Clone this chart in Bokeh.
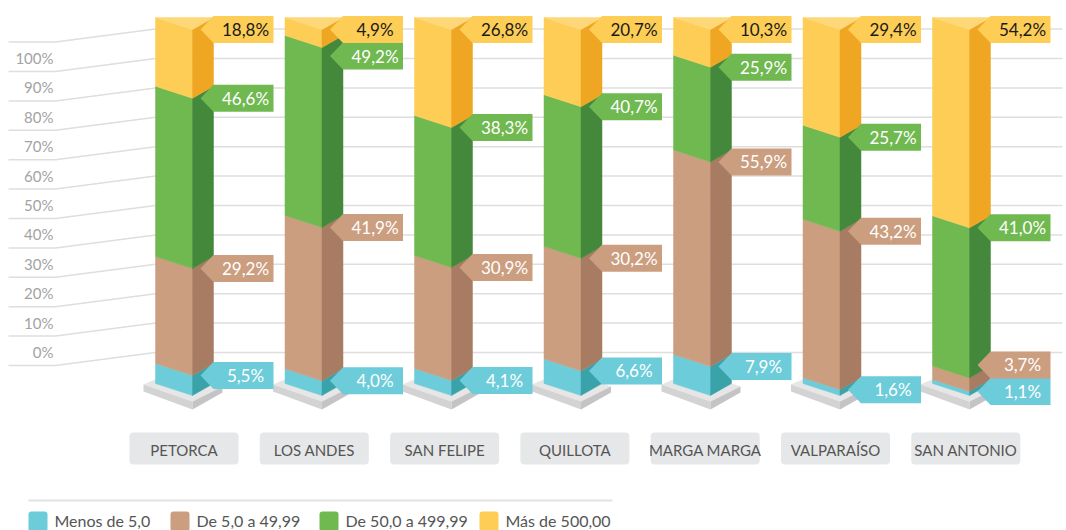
from bokeh.plotting import figure
from bokeh.models import Range1d
from bokeh.core.properties import value
from bokeh.embed import file_html
from bokeh.resources import INLINE

# ---------------- data ----------------
categories = ["PETORCA", "LOS ANDES", "SAN FELIPE", "QUILLOTA",
              "MARGA MARGA", "VALPARAÍSO", "SAN ANTONIO"]
menos_5 = [5.5, 4.0, 4.1, 6.6, 7.9, 1.6, 1.1]
de_5_a_50 = [29.2, 41.9, 30.9, 30.2, 55.9, 43.2, 3.7]
de_50_a_500 = [46.6, 49.2, 38.3, 40.7, 25.9, 25.7, 41.0]
mas_500 = [18.8, 4.9, 26.8, 20.7, 10.3, 29.4, 54.2]
series_names = ["Menos de 5,0", "De 5,0 a 49,99", "De 50,0 a 499,99", "Más de 500,00"]
tick_values = [100, 90, 80, 70, 60, 50, 40, 30, 20, 10, 0]
tick_labels = ["100%", "90%", "80%", "70%", "60%", "50%", "40%", "30%", "20%", "10%", "0%"]

# ---------------- style ----------------
FONT = value("Lato")
front_cols = ["#6dccd9", "#cc9e80", "#70b850", "#fdcd56"]
side_cols = ["#3aa3aa", "#a87c63", "#44883c", "#eea623"]
label_text_cols = ["white", "white", "white", "#1a1a1a"]
TOP_COL = "#fed778"

# pixel helpers (page-image coordinates -> data units)
PX_X = 129.5      # px per category step
X0 = 155.0        # px of bar 0 front-left edge
PX_Y = 3.66       # px per percent
Y0 = 383.0        # px of 0 % at bar front-left edge


def X(px):
    return (px - X0) / PX_X


def Y(py):
    return (Y0 - py) / PX_Y


def dX(px):
    return px / PX_X


def dY(py):
    return py / PX_Y


FRONT_W = dX(37)
SIDE_W = dX(21)
DROP = dY(12)

W, H = 1066, 530
p = figure(width=W, height=H, x_range=Range1d(X(0), X(W)),
           y_range=Range1d(Y(H), Y(0)), output_backend="svg",
           toolbar_location=None, min_border=0,
           x_axis_type=None, y_axis_type=None)
p.outline_line_color = None
p.xgrid.visible = False
p.ygrid.visible = False
p.background_fill_color = "white"

# ---------------- gridlines with slanted left part ----------------
gx, gy = [], []
grid_vals = [110] + tick_values
for v in grid_vals:
    yr = 352 - 2.94 * v
    yl = yr + 13
    gx.append([X(8), X(55), X(155), X(1062)])
    gy.append([Y(yl), Y(yl), Y(yr), Y(yr)])
p.multi_line(gx, gy, line_color="#dedede", line_width=1.5)

tx, ty = [], []
for v in tick_values:
    yr = 352 - 2.94 * v
    tx.append(X(53))
    ty.append(Y(yr - 0.5))
p.text(tx, ty, text=tick_labels, text_font=FONT, text_font_size="15px",
       text_color="#a3a3a3", text_align="right", text_baseline="middle")

# ---------------- bars ----------------
series = [menos_5, de_5_a_50, de_50_a_500, mas_500]
n = len(categories)

plate_top_x, plate_top_y = [], []
plate_l_x, plate_l_y, plate_r_x, plate_r_y = [], [], [], []
fx = [[] for _ in range(4)]
fy = [[] for _ in range(4)]
sx = [[] for _ in range(4)]
sy = [[] for _ in range(4)]
topx, topy = [], []
lab_x = [[] for _ in range(4)]
lab_y = [[] for _ in range(4)]
txt_x = [[] for _ in range(4)]
txt_y = [[] for _ in range(4)]
txt = [[] for _ in range(4)]

for i in range(n):
    L = float(i)
    C = L + FRONT_W
    R = C + SIDE_W
    # plate
    plate_top_x.append([L - dX(12), C, R + dX(9), L + dX(20)])
    plate_top_y.append([Y(384), Y(401), Y(386), Y(370)])
    plate_l_x.append([L - dX(12), C, C, L - dX(12)])
    plate_l_y.append([Y(384), Y(401), Y(409), Y(391)])
    plate_r_x.append([C, R + dX(9), R + dX(9), C])
    plate_r_y.append([Y(401), Y(386), Y(392), Y(409)])

    vals = [s[i] for s in series]
    total = sum(vals)
    b = 0.0
    tops = []
    for j, v in enumerate(vals):
        t = b + v / total * 100.0
        fx[j].append([L, C, C, L])
        fy[j].append([t, t - DROP, b - DROP, b])
        sx[j].append([C, R, R, C])
        sy[j].append([t - DROP, t, b, b - DROP])
        tops.append(t)
        b = t
    topx.append([L, R, C])
    topy.append([100.0, 100.0, 100.0 - DROP])

    # label centres (data units), overlap resolution
    cen = [t - DROP for t in tops]
    gap = dY(26.5)
    cen[2] = min(cen[2], cen[3] - gap)
    cen[1] = min(cen[1], cen[2] - gap)
    cen[1] = max(cen[1], cen[0] + gap)
    cen[2] = max(cen[2], cen[1] + gap)
    h = dY(13.5)
    for j in range(4):
        yc = cen[j]
        lab_x[j].append([C + dX(8), C + dX(21), C + dX(81), C + dX(81), C + dX(21)])
        lab_y[j].append([yc, yc + h, yc + h, yc - h, yc - h])
        txt_x[j].append(C + dX(53))
        txt_y[j].append(yc)
        txt[j].append(f"{vals[j]:.1f}%".replace(".", ","))

p.patches(plate_top_x, plate_top_y, fill_color="#e6e6e6", line_color=None)
p.patches(plate_l_x, plate_l_y, fill_color="#d3d3d4", line_color=None)
p.patches(plate_r_x, plate_r_y, fill_color="#c4c4c6", line_color=None)

for j in range(4):
    p.patches(fx[j], fy[j], fill_color=front_cols[j], line_color=front_cols[j], line_width=0.5)
    p.patches(sx[j], sy[j], fill_color=side_cols[j], line_color=side_cols[j], line_width=0.5)
p.patches(topx, topy, fill_color=TOP_COL, line_color=TOP_COL, line_width=0.5)

for j in range(4):
    p.patches(lab_x[j], lab_y[j], fill_color=front_cols[j], line_color=None)
    p.text(txt_x[j], txt_y[j], text=txt[j], text_font=FONT, text_font_size="17px",
           text_color=label_text_cols[j], text_align="center", text_baseline="middle")

# ---------------- category boxes ----------------
cx = [X(183.5) + dX(130.3) * i for i in range(n)]
p.quad(left=[c - dX(54.5) for c in cx], right=[c + dX(54.5) for c in cx],
       top=Y(432), bottom=Y(464), fill_color="#e6e7e8", line_color=None,
       border_radius=4)
p.text(cx, [Y(449)] * n, text=categories, text_font=FONT, text_font_size="15px",
       text_color="#555555", text_align="center", text_baseline="middle")

# ---------------- legend ----------------
p.line([X(28), X(612)], [Y(500), Y(500)], line_color="#e2e2e2", line_width=2)
sq_left = [28, 170, 319, 479]
for j in range(4):
    p.quad(left=[X(sq_left[j])], right=[X(sq_left[j] + 19)],
           top=[Y(511)], bottom=[Y(531)], fill_color=front_cols[j],
           line_color=None, border_radius=3)
    p.text([X(sq_left[j] + 26)], [Y(520)], text=[series_names[j]], text_font=FONT,
           text_font_size="16px", text_color="#555555", text_align="left",
           text_baseline="middle")

open("out.html", "w").write(file_html(p, INLINE))
